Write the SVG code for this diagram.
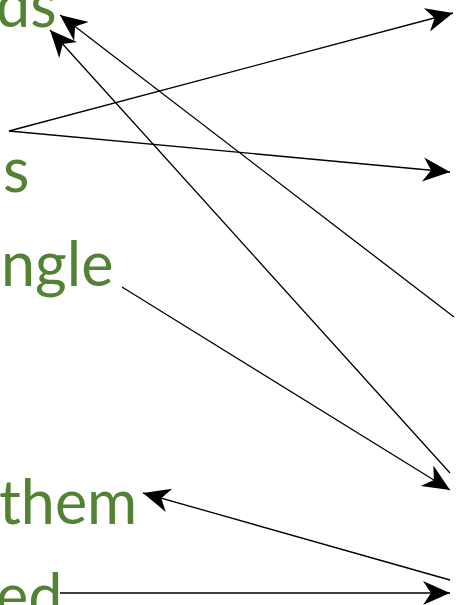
<svg xmlns="http://www.w3.org/2000/svg" width="462" height="605" viewBox="0 0 462 605">
<style>
.t{font-family:Lato,"Open Sans",sans-serif;font-size:61px;fill:#548235}
.c line{stroke:#000;stroke-width:1.3;fill:none}
.a{marker-end:url(#ah)}
</style>
<defs>
<marker id="ah" markerUnits="userSpaceOnUse" viewBox="-28 -14 30 28" refX="0" refY="0" markerWidth="30" markerHeight="28" orient="auto" overflow="visible">
<path d="M0,0 L-27,-12 L-19,0 L-27,12 Z" fill="#000"/>
</marker>
</defs>
<rect width="462" height="605" fill="#fff"/>
<g id="n1"><text class="t" x="-4" y="27">ds</text></g>
<g id="n2"><text class="t" x="3" y="192">s</text></g>
<g id="n3"><text class="t" x="1" y="286">ngle</text></g>
<g id="n4"><text class="t" x="-1" y="524">them</text></g>
<g id="n5"><text class="t" x="-4" y="618">ed</text></g>
<g id="connectors" class="c">
<line class="a" x1="9" y1="131" x2="453" y2="13"/>
<line class="a" x1="9" y1="131" x2="450" y2="172"/>
<line class="a" x1="454" y1="317" x2="60" y2="15"/>
<line class="a" x1="450" y1="473" x2="50" y2="30"/>
<line class="a" x1="122" y1="287" x2="450" y2="490"/>
<line class="a" x1="450" y1="580" x2="143" y2="493"/>
<line class="a" x1="60" y1="593" x2="450" y2="593"/>
</g>
</svg>
